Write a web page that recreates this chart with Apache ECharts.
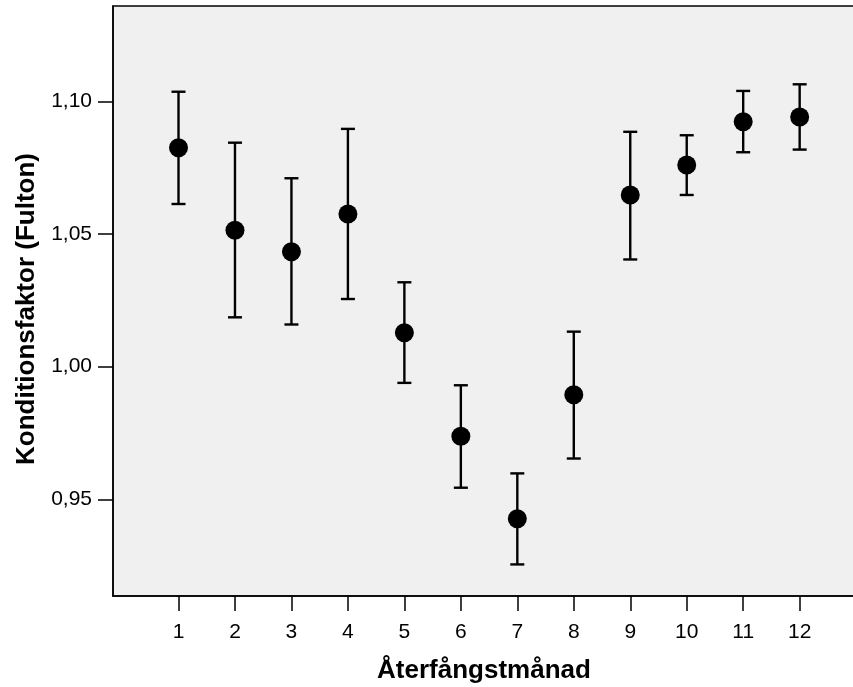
<!DOCTYPE html>
<html><head><meta charset="utf-8">
<script src="https://cdn.jsdelivr.net/npm/echarts@6/dist/echarts.min.js"></script>
<style>html,body{margin:0;padding:0;background:#fff}#c{width:853px;height:687px}</style>
</head><body><div id="c"></div>
<script>
const months = [1,2,3,4,5,6,7,8,9,10,11,12];
const means  = [1.0825,1.0514,1.0433,1.0575,1.0128,0.9738,0.9427,0.9894,1.0647,1.0760,1.0923,1.0941];
const upper  = [1.1036,1.0844,1.0710,1.0896,1.0318,0.9930,0.9598,1.0132,1.0885,1.0872,1.1039,1.1064];
const lower  = [1.0613,1.0186,1.0159,1.0255,0.9939,0.9544,0.9255,0.9654,1.0404,1.0647,1.0808,1.0818];
const yTicks = [0.95,1.00,1.05,1.10];
const xTitle = 'Återfångstmånad';
const yTitle = 'Konditionsfaktor (Fulton)';

const chart = echarts.init(document.getElementById('c'), null, {renderer:'canvas'});
const font = 'Liberation Sans, Arial, sans-serif';
chart.setOption({
  animation:false,
  grid:{left:113, right:-2, top:6, bottom:91, show:true, backgroundColor:'#f0f0f0', borderColor:'#000', borderWidth:1.5,
    containLabel:false, outerBoundsMode:'none'},
  xAxis:{type:'value', min:-0.16, max:12.98,
    name:xTitle, nameLocation:'middle', nameGap:62,
    nameTextStyle:{fontFamily:font, fontSize:26, fontWeight:'bold', color:'#000'},
    axisLine:{show:true, onZero:false, lineStyle:{color:'#000', width:1.5}},
    axisTick:{show:true, inside:false, length:15, lineStyle:{color:'#000', width:1.5}, customValues:months},
    axisLabel:{color:'#000', fontFamily:font, fontSize:21, margin:26, customValues:months,
      formatter:v=>String(v)},
    splitLine:{show:false}},
  yAxis:{type:'value', min:0.9136, max:1.1359,
    name:yTitle, nameLocation:'middle', nameGap:72, nameRotate:90,
    nameTextStyle:{fontFamily:font, fontSize:26, fontWeight:'bold', color:'#000', padding:[0,16,0,0]},
    axisLine:{show:true, onZero:false, lineStyle:{color:'#000', width:1.5}},
    axisTick:{show:true, length:15, lineStyle:{color:'#000', width:1.5}, customValues:yTicks},
    axisLabel:{color:'#000', fontFamily:font, fontSize:21, margin:21, customValues:yTicks,
      formatter:v=>v.toFixed(2).replace('.',',')},
    splitLine:{show:false}},
  series:[
    {type:'custom', data:months.map((m,i)=>[m, lower[i], upper[i]]),
     renderItem:function(params, api){
       const x = api.value(0);
       const lo = api.coord([x, api.value(1)]);
       const hi = api.coord([x, api.value(2)]);
       const hw = 7;
       const st = {stroke:'#000', lineWidth:2.4, fill:null};
       return {type:'group', children:[
         {type:'line', shape:{x1:lo[0], y1:lo[1], x2:hi[0], y2:hi[1]}, style:st},
         {type:'line', shape:{x1:hi[0]-hw, y1:hi[1], x2:hi[0]+hw, y2:hi[1]}, style:st},
         {type:'line', shape:{x1:lo[0]-hw, y1:lo[1], x2:lo[0]+hw, y2:lo[1]}, style:st}
       ]};
     }, z:2},
    {type:'scatter', data:months.map((m,i)=>[m, means[i]]), symbol:'circle', symbolSize:19,
     itemStyle:{color:'#000', opacity:1}, z:3}
  ]
});
</script></body></html>
